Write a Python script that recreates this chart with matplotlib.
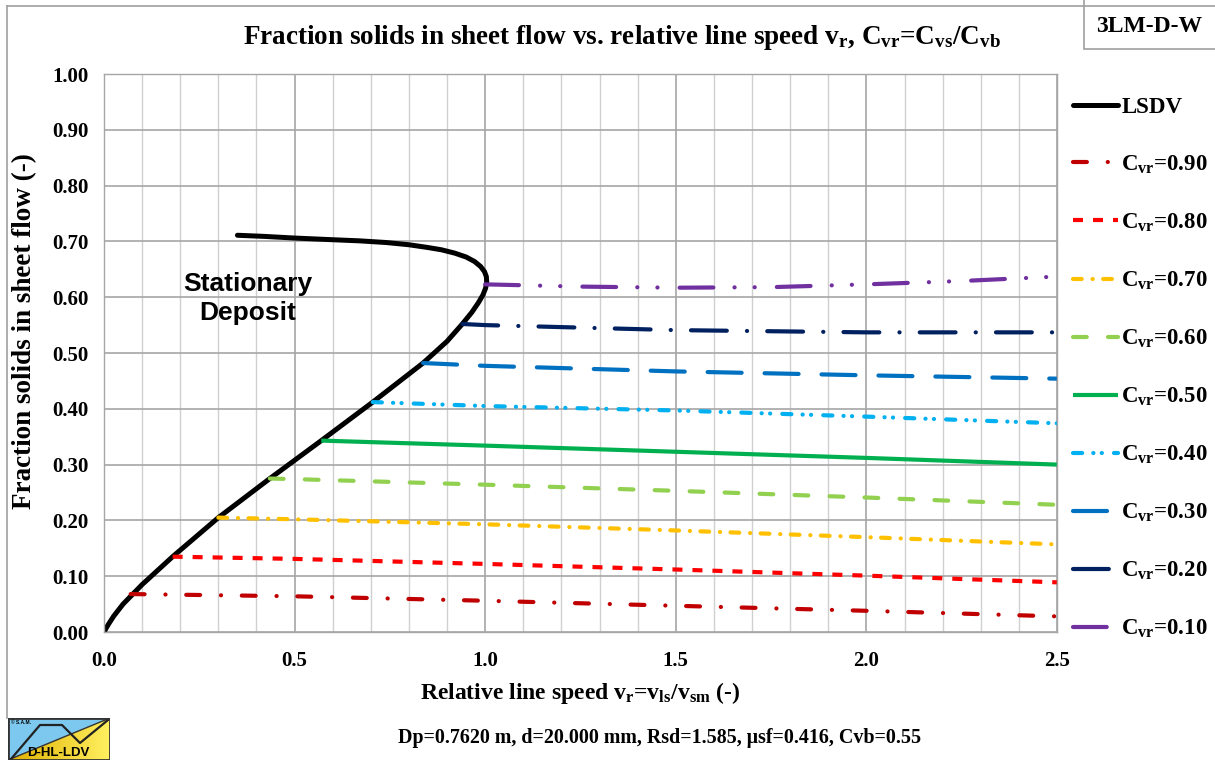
import numpy as np
import matplotlib
matplotlib.use("Agg")
import matplotlib.pyplot as plt
from matplotlib.patches import Rectangle, Polygon
from matplotlib.lines import Line2D
from matplotlib.colors import LinearSegmentedColormap

plt.rcParams['font.family'] = ['Liberation Serif', 'DejaVu Serif']
plt.rcParams['font.weight'] = 'bold'
plt.rcParams['axes.labelweight'] = 'bold'
plt.rcParams['mathtext.fontset'] = 'custom'
plt.rcParams['mathtext.rm'] = 'Liberation Serif:bold'
plt.rcParams['mathtext.it'] = 'Liberation Serif:bold'
plt.rcParams['mathtext.bf'] = 'Liberation Serif:bold'
plt.rcParams['lines.scale_dashes'] = False

# ---------------- data ----------------
lsdv_x = [0.0, 0.01, 0.025, 0.05, 0.10, 0.18, 0.30, 0.435, 0.57, 0.705, 0.837, 0.90, 0.94,
          0.965, 0.982, 0.994, 1.001, 1.004, 1.003, 0.998, 0.988, 0.972, 0.95, 0.92, 0.885,
          0.85, 0.80, 0.74, 0.67, 0.60, 0.50, 0.42, 0.35]
lsdv_y = [0.0, 0.012, 0.028, 0.050, 0.085, 0.135, 0.205, 0.275, 0.343, 0.412, 0.482, 0.521, 0.552,
          0.573, 0.590, 0.604, 0.616, 0.627, 0.637, 0.646, 0.655, 0.664, 0.672, 0.679, 0.685,
          0.689, 0.694, 0.698, 0.701, 0.703, 0.706, 0.709, 0.711]

cvr_labels = ["0.90", "0.80", "0.70", "0.60", "0.50", "0.40", "0.30", "0.20", "0.10"]

s90_x = [0.07, 0.5, 1.0, 1.5, 2.0, 2.5]
s90_y = [0.068, 0.064, 0.056, 0.047, 0.038, 0.028]
s80_x = [0.18, 0.5, 1.0, 1.5, 2.0, 2.5]
s80_y = [0.135, 0.131, 0.122, 0.112, 0.101, 0.089]
s70_x = [0.30, 0.5, 1.0, 1.5, 2.0, 2.5]
s70_y = [0.205, 0.202, 0.193, 0.182, 0.170, 0.157]
s60_x = [0.435, 0.5, 1.0, 1.5, 2.0, 2.5]
s60_y = [0.275, 0.274, 0.264, 0.253, 0.241, 0.228]
s50_x = [0.57, 1.0, 1.5, 2.0, 2.5]
s50_y = [0.343, 0.334, 0.323, 0.312, 0.300]
s40_x = [0.705, 1.0, 1.5, 2.0, 2.5]
s40_y = [0.412, 0.405, 0.397, 0.386, 0.374]
s30_x = [0.837, 1.0, 1.5, 2.0, 2.5]
s30_y = [0.482, 0.477, 0.467, 0.460, 0.454]
s20_x = [0.94, 1.0, 1.5, 2.0, 2.5]
s20_y = [0.552, 0.550, 0.541, 0.537, 0.537]
s10_x = [1.0, 1.25, 1.5, 1.75, 2.0, 2.25, 2.5]
s10_y = [0.623, 0.619, 0.617, 0.618, 0.623, 0.629, 0.637]

series_x = [s90_x, s80_x, s70_x, s60_x, s50_x, s40_x, s30_x, s20_x, s10_x]
series_y = [s90_y, s80_y, s70_y, s60_y, s50_y, s40_y, s30_y, s20_y, s10_y]

x_ticks = [0.0, 0.5, 1.0, 1.5, 2.0, 2.5]
y_ticks = [0.0, 0.1, 0.2, 0.3, 0.4, 0.5, 0.6, 0.7, 0.8, 0.9, 1.0]

# ---------------- styles ----------------
colors = ['#C00000', '#FF0000', '#FFC000', '#92D050', '#00B050',
          '#00B0F0', '#0070C0', '#002060', '#7030A0']
dashes = [(10, 15, 0.1, 14.9),
          (7.2, 7.2),
          (6.3, 7.8, 0.1, 7.5),
          (9.9, 15.3),
          None,
          (6.6, 8.0, 0.1, 6.0, 0.1, 8.7),
          (24.5, 16.5),
          (25.8, 14.5, 0.1, 14.5),
          (24.3, 15.2, 0.1, 14.4, 0.1, 15.9)]
capstyles = ['round', 'butt', 'round', 'round', 'round', 'round', 'round', 'round', 'round']

W, H = 1215, 760
fig = plt.figure(figsize=(W / 100, H / 100), dpi=100)
ax = fig.add_axes([104 / W, 1 - 632 / H, (1057 - 104) / W, (632 - 74) / H])

ax.set_xlim(0, 2.5)
ax.set_ylim(0, 1.0)
ax.set_xticks(x_ticks)
ax.set_xticklabels([f"{v:.1f}" for v in x_ticks])
ax.set_yticks(y_ticks)
ax.set_yticklabels([f"{v:.2f}" for v in y_ticks])
ax.set_xticks(np.arange(0, 2.51, 0.1), minor=True)
ax.tick_params(which='both', length=0)
ax.tick_params(axis='y', labelsize=15, pad=11)
ax.tick_params(axis='x', labelsize=15, pad=14)
ax.grid(which='minor', axis='x', color='#D0D0D0', lw=1.0)
ax.grid(which='major', axis='both', color='#A6A6A6', lw=1.2)
ax.set_axisbelow(True)
for sp in ax.spines.values():
    sp.set_color('#A6A6A6')
    sp.set_linewidth(1.0)

handles = []
h, = ax.plot(lsdv_x, lsdv_y, color='black', lw=3.6, solid_capstyle='round',
             solid_joinstyle='round', label='LSDV')
handles.append(h)
for xs, ys, c, d, cap, lab in zip(series_x, series_y, colors, dashes, capstyles, cvr_labels):
    if d is None:
        h, = ax.plot(xs, ys, color=c, lw=3, solid_capstyle='butt',
                     label=r'C$_{\rm vr}$=' + lab)
    else:
        h, = ax.plot(xs, ys, color=c, lw=3, dashes=d, dash_capstyle=cap,
                     label=r'C$_{\rm vr}$=' + lab)
    handles.append(h)

ax.text(0.378, 0.598, 'Stationary\nDeposit', family='Liberation Sans', fontweight='bold',
        fontsize=19, ha='center', va='center', linespacing=1.25)

leg = ax.legend(handles=handles, loc='upper left', bbox_to_anchor=(1064 / W, 1 - 87.5 / H),
                bbox_transform=fig.transFigure, frameon=False, fontsize=16.5,
                handlelength=1.95, handletextpad=0.15, labelspacing=1.56, borderaxespad=0)

ax.set_xlabel(r'Relative line speed v$_{\rm r}$=v$_{\rm ls}$/v$_{\rm sm}$ (-)', fontsize=17,
              labelpad=6)
ax.set_ylabel('Fraction solids in sheet flow (-)', fontsize=19.5)
ax.yaxis.set_label_coords(-0.0705, 0.539)

fig.text(622 / W, 1 - 38 / H,
         r'Fraction solids in sheet flow vs. relative line speed v$_{\rm r}$, C$_{\rm vr}$=C$_{\rm vs}$/C$_{\rm vb}$',
         fontsize=19.5, ha='center', va='center')
fig.text(660 / W, 1 - 738 / H,
         'Dp=0.7620 m, d=20.000 mm, Rsd=1.585, \u03bcsf=0.416, Cvb=0.55',
         fontsize=14.4, ha='center', va='center')

# frame lines and id box
fig.add_artist(Line2D([7 / W, 7 / W], [1 - 718 / H, 1 - 6 / H], color='#A0A0A0', lw=1.2,
                      transform=fig.transFigure))
fig.add_artist(Line2D([7 / W, 1 - 0.5 / W], [1 - 6 / H, 1 - 6 / H], color='#A0A0A0', lw=1.2,
                      transform=fig.transFigure))
fig.add_artist(Rectangle((1084 / W, 1 - 49 / H), 140 / W, 60 / H, transform=fig.transFigure,
                         fill=True, facecolor='white', edgecolor='#A0A0A0', lw=1.2))
fig.text(1149 / W, 1 - 27 / H, '3LM-D-W', fontsize=17, ha='center', va='center')

# logo
lax = fig.add_axes([8 / W, 0, 102 / W, 42 / H])
lax.set_xlim(0, 102)
lax.set_ylim(0, 42)
lax.axis('off')
lax.add_patch(Polygon([[0, 0], [0, 42], [102, 42]], closed=True, facecolor='#7CC8EE', edgecolor='none'))
grad = np.linspace(0, 1, 256).reshape(1, -1)
cmap = LinearSegmentedColormap.from_list('yl', ['#E0B000', '#FFF060'])
im = lax.imshow(grad, extent=[0, 102, 0, 42], aspect='auto', cmap=cmap, zorder=1)
tri = Polygon([[0, 0], [102, 42], [102, 0]], closed=True, transform=lax.transData)
im.set_clip_path(tri)
lax.plot([0, 102], [0, 42], color='#333333', lw=1.0, zorder=2)
lax.plot([3, 32, 54, 72, 100], [1, 35, 35, 17, 40], color='#222222', lw=1.6, zorder=3)
lax.add_patch(Rectangle((0, 0), 102, 42, fill=False, edgecolor='#333333', lw=2, zorder=4))
lax.text(50, 7, 'D-HL-LDV', family='Liberation Sans', fontweight='bold', fontsize=9.5,
         ha='center', va='center', zorder=5)
lax.text(3, 38, '\u00a9 S.A.M.', family='Liberation Sans', fontsize=3.5, ha='left', va='center',
         zorder=5)

fig.savefig('out.png', dpi=100)
